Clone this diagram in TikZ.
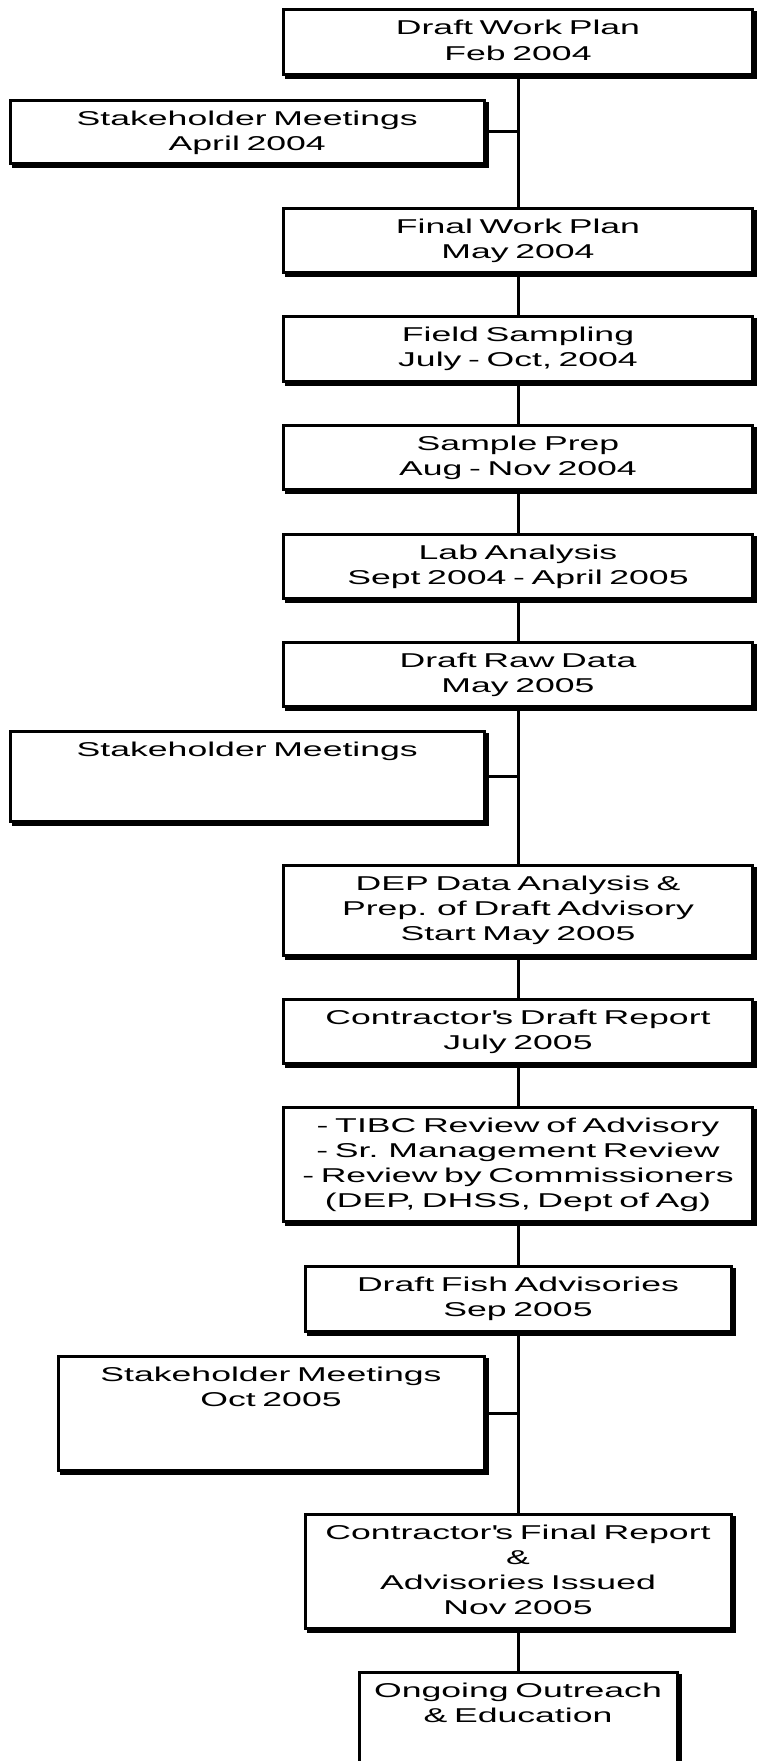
\documentclass[tikz,border=0pt]{standalone}
\usepackage{fontspec}
\setmainfont{Liberation Sans}[FakeStretch=1.78]
\usetikzlibrary{shadows}
\newcommand{\boxfont}{\fontsize{20}{25}\selectfont}
\tikzset{
  stagebox/.style={rectangle, draw=black, fill=white, line width=3pt,
    outer sep=0pt, inner sep=0pt, align=center, text height=25pt,
    font=\boxfont, anchor=north,
    drop shadow={shadow xshift=3pt, shadow yshift=-3pt, fill=black,
      draw=black, line width=3pt, opacity=1}},
  mainw/.style={text width=469pt},
  narroww/.style={text width=426pt},
  sidew/.style={text width=473.5pt},
  twoline/.style={text depth=39.5pt},
  threeline/.style={text depth=64.3pt},
  fourline/.style={text depth=89pt},
  link/.style={draw=black, line width=3pt},
}
\begin{document}
\begin{tikzpicture}[x=1pt, y=-1pt]
\useasboundingbox (0,0) rectangle (759,1761);
\clip (0,0) rectangle (759,1761);
\node[stagebox, mainw, twoline] (dwp) at (518,10) {Draft Work Plan\\Feb 2004};
\node[stagebox, sidew, text depth=38pt] (sm1) at (247.25,100) {Stakeholder Meetings\\April 2004};
\node[stagebox, mainw, twoline] (fwp) at (518,208.3) {Final Work Plan\\May 2004};
\node[stagebox, mainw, twoline] (fs) at (518,316.7) {Field Sampling\\July - Oct, 2004};
\node[stagebox, mainw, twoline] (sp) at (518,425) {Sample Prep\\Aug - Nov 2004};
\node[stagebox, mainw, twoline] (la) at (518,534) {Lab Analysis\\Sept 2004 - April 2005};
\node[stagebox, mainw, twoline] (drd) at (518,642.3) {Draft Raw Data\\May 2005};
\node[stagebox, sidew, threeline] (sm2) at (247.25,731.7) {Stakeholder Meetings};
\node[stagebox, mainw, threeline] (dep) at (518,865.7) {DEP Data Analysis \&\\Prep. of Draft Advisory\\Start May 2005};
\node[stagebox, mainw, text depth=39pt] (cdr) at (518,999.3) {Contractor\textquotesingle s Draft Report\\July 2005};
\node[stagebox, mainw, fourline] (tibc) at (518,1107.7) {- TIBC Review of Advisory\\- Sr. Management Review\\- Review by Commissioners\\(DEP, DHSS, Dept of Ag)};
\node[stagebox, narroww, text depth=40pt] (dfa) at (518,1266) {Draft Fish Advisories\\Sep 2005};
\node[stagebox, narroww, fourline] (sm3) at (271,1356) {Stakeholder Meetings\\Oct 2005};
\node[stagebox, narroww, fourline] (cfr) at (518,1514.3) {Contractor\textquotesingle s Final Report\\\&\\Advisories Issued\\Nov 2005};
\node[stagebox, text width=318pt, text depth=150pt] (ooe) at (518,1672) {Ongoing Outreach\\\& Education};
\draw[link] (dwp.south) -- (fwp.north);
\draw[link] (fwp.south) -- (fs.north);
\draw[link] (fs.south) -- (sp.north);
\draw[link] (sp.south) -- (la.north);
\draw[link] (la.south) -- (drd.north);
\draw[link] (drd.south) -- (dep.north);
\draw[link] (dep.south) -- (cdr.north);
\draw[link] (cdr.south) -- (tibc.north);
\draw[link] (tibc.south) -- (dfa.north);
\draw[link] (dfa.south) -- (cfr.north);
\draw[link] (cfr.south) -- (ooe.north);
\draw[link] (sm1.east) -- (sm1.east -| dwp.south);
\draw[link] (sm2.east) -- (sm2.east -| drd.south);
\draw[link] (sm3.east) -- (sm3.east -| dfa.south);
\end{tikzpicture}
\end{document}
